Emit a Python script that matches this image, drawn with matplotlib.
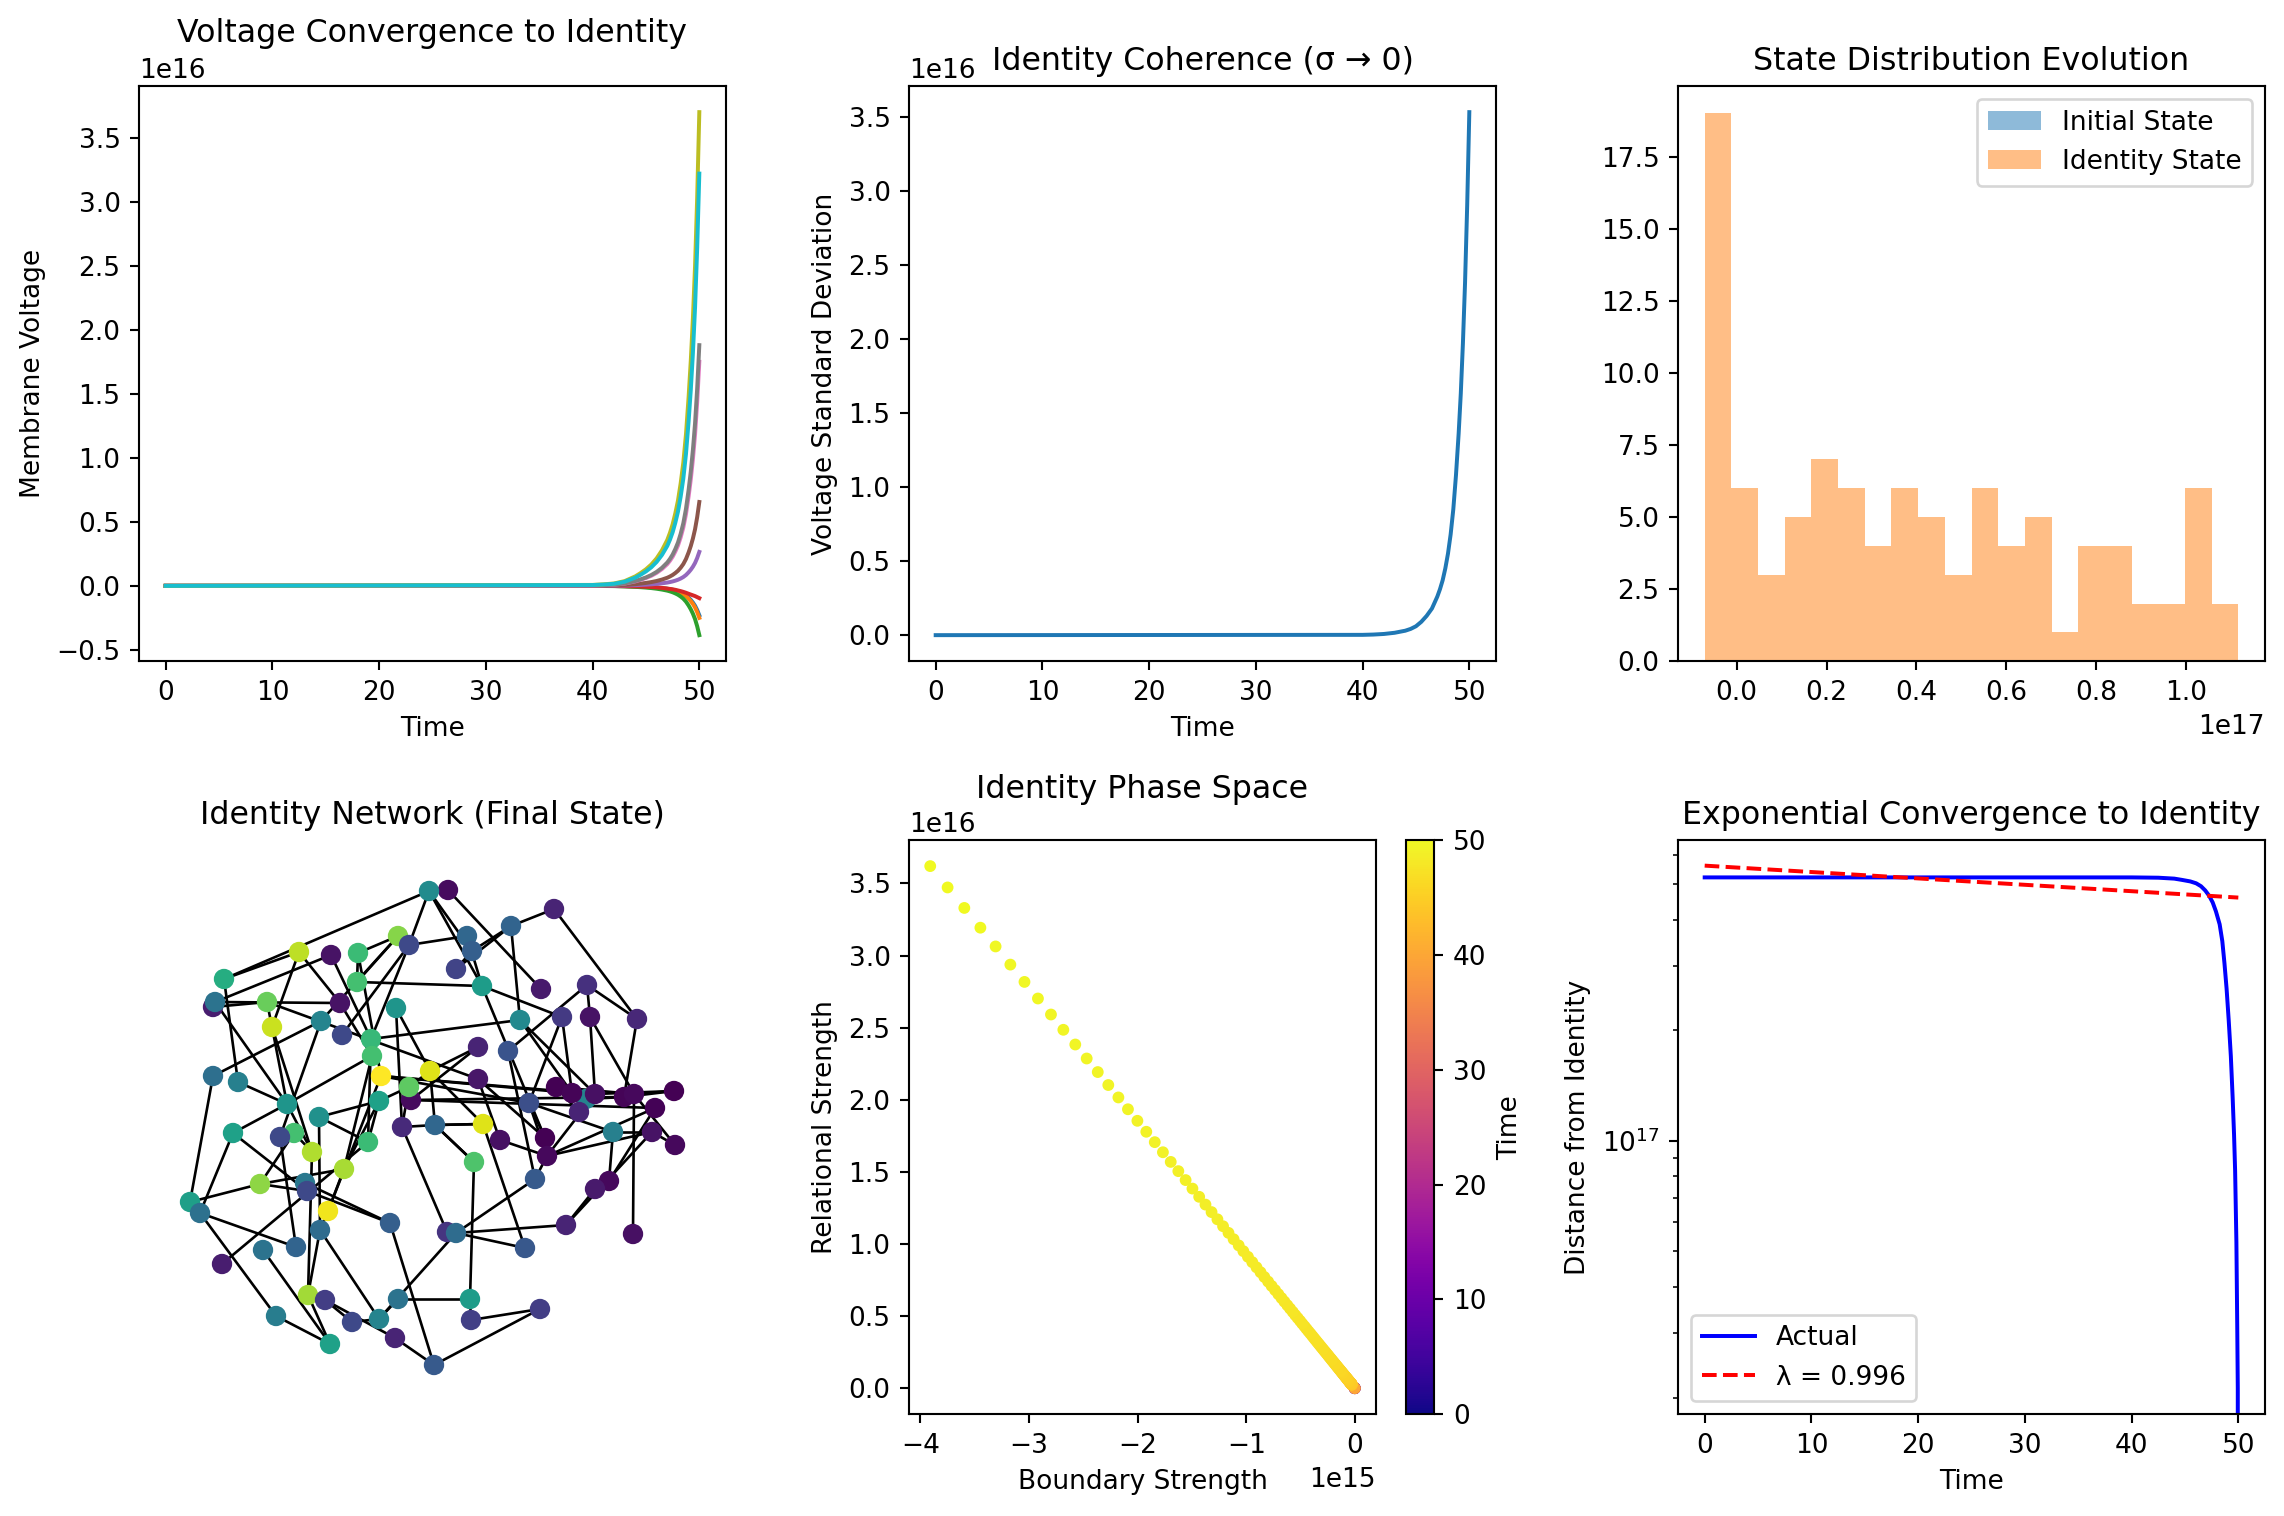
import numpy as np
import matplotlib
matplotlib.use("Agg")
import matplotlib.pyplot as plt
from matplotlib.collections import LineCollection

# ---------------- data ----------------
# Voltage traces of the first 10 nodes (units of 1e16)
time_pts = [0, 40, 41, 42, 43, 44, 44.5, 45, 45.5, 46, 46.5, 47, 47.25, 47.5, 47.75, 48, 48.25, 48.5, 48.75, 49,
            49.2, 49.4, 49.6, 49.8, 50]
volt_c0 = [0, -0.0005, -0.0007, -0.0012, -0.0023, -0.0046, -0.0062, -0.0081, -0.0104, -0.0133, -0.0173, -0.0223, -0.0258,
           -0.0299, -0.0352, -0.0414, -0.0497, -0.0598, -0.0736, -0.092, -0.1093, -0.13, -0.1553, -0.1886, -0.23]
volt_c1 = [0, -0.0005, -0.0008, -0.0013, -0.0025, -0.005, -0.0068, -0.0088, -0.0113, -0.0145, -0.0188, -0.0243, -0.028,
           -0.0325, -0.0383, -0.045, -0.054, -0.065, -0.08, -0.10, -0.1188, -0.1413, -0.1688, -0.205, -0.25]
volt_c2 = [0, -0.0008, -0.0012, -0.0019, -0.0039, -0.0077, -0.0104, -0.0135, -0.0173, -0.0223, -0.0289, -0.0373, -0.0431,
           -0.0501, -0.0589, -0.0693, -0.0832, -0.1001, -0.1232, -0.154, -0.1829, -0.2175, -0.2599, -0.3157, -0.385]
volt_c3 = [0, -0.0003, -0.0006, -0.001, -0.002, -0.004, -0.0055, -0.007, -0.009, -0.012, -0.016, -0.021, -0.024,
           -0.027, -0.031, -0.036, -0.041, -0.047, -0.054, -0.062, -0.068, -0.074, -0.080, -0.088, -0.096]
volt_c4 = [0, 0.0005, 0.0008, 0.0013, 0.0027, 0.0053, 0.0072, 0.0093, 0.0119, 0.0154, 0.0199, 0.0257, 0.0297,
           0.0345, 0.0405, 0.0477, 0.0572, 0.0689, 0.0848, 0.106, 0.1259, 0.1497, 0.1789, 0.2173, 0.265]
volt_c5 = [0, 0.0013, 0.0021, 0.0033, 0.0066, 0.0131, 0.0177, 0.0229, 0.0295, 0.038, 0.0491, 0.0635, 0.0734,
           0.0852, 0.1002, 0.1179, 0.1415, 0.1703, 0.2096, 0.262, 0.3111, 0.3701, 0.4421, 0.5371, 0.655]
volt_c6 = [0, 0.0035, 0.0056, 0.0088, 0.0175, 0.035, 0.0473, 0.0613, 0.0788, 0.1015, 0.1313, 0.1698, 0.196,
           0.2275, 0.2678, 0.315, 0.378, 0.455, 0.56, 0.70, 0.8313, 0.9888, 1.1813, 1.435, 1.75]
volt_c7 = [0, 0.0038, 0.006, 0.0094, 0.0188, 0.0376, 0.0508, 0.0658, 0.0846, 0.109, 0.141, 0.1824, 0.2106,
           0.2444, 0.2876, 0.3384, 0.4061, 0.4888, 0.6016, 0.752, 0.893, 1.0622, 1.269, 1.5416, 1.88]
volt_c8 = [0, 0.0074, 0.0118, 0.0185, 0.037, 0.074, 0.0999, 0.1295, 0.1665, 0.2146, 0.2775, 0.3589, 0.4144,
           0.481, 0.5661, 0.666, 0.7992, 0.962, 1.184, 1.48, 1.7575, 2.0905, 2.4975, 3.034, 3.70]
volt_c9 = [0, 0.0064, 0.0103, 0.0161, 0.0322, 0.0644, 0.0869, 0.1127, 0.1449, 0.1868, 0.2415, 0.3123, 0.3606,
           0.4186, 0.4927, 0.5796, 0.6955, 0.8372, 1.0304, 1.288, 1.5295, 1.8193, 2.1735, 2.6404, 3.22]
voltage_traces = [volt_c0, volt_c1, volt_c2, volt_c3, volt_c4, volt_c5, volt_c6, volt_c7, volt_c8, volt_c9]
VOLT_SCALE = 1e16

# Standard deviation of voltages (units of 1e16)
std_values = [0, 0.002, 0.004, 0.008, 0.016, 0.03, 0.042, 0.06, 0.09, 0.13, 0.18, 0.26, 0.31, 0.37, 0.45, 0.55,
              0.68, 0.85, 1.08, 1.36, 1.63, 1.97, 2.38, 2.90, 3.53]

# Histogram (final identity state, units of 1e17)
final_edge_min, final_edge_max = -0.0713, 1.117
final_counts = [19, 6, 3, 5, 7, 6, 4, 6, 5, 3, 6, 4, 5, 1, 4, 4, 2, 2, 6, 2]
initial_edge_min, initial_edge_max = -1.5, 1.5
initial_counts = [1, 1, 2, 3, 4, 5, 6, 7, 8, 9, 9, 8, 8, 7, 6, 5, 4, 3, 2, 2]
HIST_SCALE = 1e17

# Network (final state) node layout and colour value
node_x = [429, 448, 398, 409, 299, 331, 358, 456, 224, 357, 213, 215, 267, 340, 396, 272, 321, 342, 371, 372,
          430, 381, 213, 238, 409, 411, 379, 287, 319, 402, 435, 233, 294, 280, 368, 312, 344, 260, 305, 307,
          190, 200, 328, 390, 320, 447, 456, 263, 296, 222, 308, 325, 398, 276, 352, 379, 395, 330, 434, 554,
          511, 467, 472, 482, 541, 587, 520, 562, 590, 637, 478, 508, 478, 529, 556, 572, 586, 595, 579, 624,
          634, 674, 655, 483, 500, 545, 547, 613, 652, 675, 474, 535, 609, 595, 566, 633, 525, 470, 471, 540]
node_y = [891, 890, 936, 945, 952, 955, 953, 969, 979, 982, 1007, 1002, 1002, 1003, 1008, 1027, 1021, 1035, 1039, 1056,
          1071, 1076, 1076, 1082, 1087, 1100, 1101, 1104, 1117, 1127, 1125, 1133, 1133, 1137, 1142, 1152, 1169, 1184, 1183, 1191,
          1202, 1213, 1211, 1223, 1230, 1232, 1233, 1250, 1247, 1264, 1295, 1300, 1299, 1316, 1322, 1319, 1338, 1344, 1365, 909,
          926, 936, 951, 986, 989, 985, 1020, 1017, 1017, 1019, 1047, 1051, 1079, 1103, 1087, 1093, 1099, 1094, 1112, 1097,
          1094, 1091, 1108, 1124, 1140, 1138, 1156, 1132, 1132, 1145, 1162, 1179, 1181, 1189, 1225, 1234, 1248, 1299, 1320, 1309]
node_value = [0.48, 0.03, 0.82, 0.22, 0.90, 0.05, 0.68, 0.20, 0.62, 0.70, 0.08, 0.38, 0.77, 0.05, 0.52, 0.92, 0.45, 0.22, 0.67, 0.70,
              0.95, 1.00, 0.36, 0.43, 0.75, 0.03, 0.57, 0.52, 0.50, 0.12, 0.33, 0.57, 0.70, 0.22, 0.68, 0.88, 0.87, 0.83, 0.40, 0.22,
              0.56, 0.37, 0.98, 0.30, 0.35, 0.15, 0.35, 0.38, 0.32, 0.08, 0.86, 0.18, 0.38, 0.42, 0.22, 0.45, 0.10, 0.57, 0.28, 0.10,
              0.32, 0.33, 0.30, 0.55, 0.07, 0.14, 0.47, 0.17, 0.05, 0.11, 0.10, 0.26, 0.06, 0.24, 0.00, 0.01, 0.45, 0.04, 0.10, 0.01,
              0.02, 0.00, 0.005, 0.95, 0.04, 0.00, 0.02, 0.43, 0.05, 0.02, 0.72, 0.28, 0.02, 0.07, 0.10, 0.04, 0.27, 0.55, 0.19, 0.18]
edges = [(0, 1), (0, 8), (0, 3), (0, 63), (0, 62), (1, 64), (2, 6), (2, 9), (2, 3), (3, 61), (3, 18), (4, 8), (4, 15),
         (4, 13), (5, 18), (5, 11), (6, 9), (6, 21), (9, 63), (8, 23), (10, 12), (11, 13), (11, 27), (12, 15), (12, 72),
         (13, 19), (14, 20), (14, 29), (15, 35), (15, 27), (16, 22), (16, 33), (16, 2), (17, 3), (18, 66), (18, 34),
         (19, 27), (19, 36), (20, 24), (20, 30), (21, 75), (21, 77), (21, 42), (21, 73), (22, 40), (23, 27), (24, 26),
         (24, 29), (25, 79), (25, 82), (25, 70), (26, 28), (26, 36), (26, 34), (27, 31), (27, 35), (28, 44), (28, 34),
         (29, 30), (29, 45), (30, 83), (30, 90), (31, 41), (31, 39), (32, 37), (32, 35), (33, 48), (34, 49), (35, 50),
         (36, 37), (36, 42), (37, 39), (37, 40), (38, 43), (39, 43), (41, 53), (41, 48), (42, 44), (43, 58), (44, 55),
         (44, 50), (46, 94), (46, 96), (46, 91), (47, 57), (50, 51), (50, 57), (51, 56), (51, 54), (52, 55), (52, 97),
         (53, 57), (54, 55), (56, 58), (58, 99), (59, 60), (59, 69), (60, 66), (60, 62), (63, 85), (63, 67), (65, 68),
         (65, 71), (65, 69), (66, 75), (66, 77), (67, 73), (67, 75), (68, 77), (68, 80), (69, 79), (70, 20), (71, 91),
         (72, 85), (72, 84), (73, 85), (73, 87), (74, 80), (75, 77), (77, 81), (79, 81), (80, 81), (80, 89), (80, 95),
         (82, 86), (77, 86), (82, 92), (88, 87), (88, 89), (88, 94), (87, 92), (92, 93), (86, 84), (86, 73), (86, 91),
         (86, 88), (78, 74), (76, 79), (83, 96), (83, 30), (83, 20), (90, 97), (90, 30), (98, 99), (97, 98), (93, 94),
         (46, 55), (61, 63), (62, 7), (60, 7)]
nodes_behind = [1, 25, 76]

# Phase space (relational in 1e16, boundary in 1e15), listed from t=50 backwards in steps of 0.05
relational_desc = [3.620, 3.472, 3.330, 3.193, 3.063, 2.937, 2.817, 2.702, 2.591, 2.485, 2.383, 2.286, 2.192, 2.102, 2.016,
                   1.934, 1.854, 1.778, 1.706, 1.636, 1.569, 1.505, 1.443, 1.384, 1.327, 1.273, 1.221, 1.171, 1.123, 1.077,
                   1.033, 0.990, 0.950, 0.911, 0.874, 0.838, 0.804, 0.771, 0.739, 0.709, 0.680, 0.652, 0.625, 0.600, 0.575,
                   0.552, 0.529, 0.507, 0.487, 0.467, 0.448, 0.429, 0.412, 0.395, 0.379, 0.363, 0.348, 0.334, 0.320, 0.307,
                   0.295, 0.283, 0.271, 0.260, 0.249, 0.239, 0.229, 0.220, 0.211, 0.202, 0.194, 0.186, 0.178, 0.171, 0.164,
                   0.157, 0.151, 0.145, 0.139, 0.133, 0.128, 0.122, 0.117, 0.113, 0.108, 0.104, 0.099, 0.095, 0.091, 0.088,
                   0.084, 0.081, 0.077, 0.074, 0.071, 0.068, 0.065, 0.063, 0.060, 0.058, 0.055, 0.053, 0.051, 0.049, 0.047,
                   0.045, 0.043, 0.041, 0.040, 0.038, 0.036, 0.035, 0.034, 0.032, 0.031, 0.030, 0.028, 0.027, 0.026, 0.025,
                   0.024]
boundary_desc = [-3.910, -3.750, -3.596, -3.448, -3.308, -3.172, -3.042, -2.918, -2.798, -2.684, -2.574, -2.469, -2.367,
                 -2.270, -2.177, -2.089, -2.002, -1.920, -1.842, -1.767, -1.695, -1.625, -1.558, -1.495, -1.433, -1.375,
                 -1.319, -1.265, -1.213, -1.163, -1.116, -1.069, -1.026, -0.984, -0.944, -0.905, -0.868, -0.833, -0.798,
                 -0.766, -0.734, -0.704, -0.675, -0.648, -0.621, -0.596, -0.571, -0.548, -0.526, -0.504, -0.484, -0.463,
                 -0.445, -0.427, -0.409, -0.392, -0.376, -0.361, -0.346, -0.332, -0.319, -0.306, -0.293, -0.281, -0.269,
                 -0.258, -0.247, -0.238, -0.228, -0.218, -0.210, -0.201, -0.192, -0.185, -0.177, -0.170, -0.163, -0.157,
                 -0.150, -0.144, -0.138, -0.132, -0.126, -0.122, -0.117, -0.112, -0.107, -0.103, -0.098, -0.095, -0.091,
                 -0.087, -0.083, -0.080, -0.077, -0.073, -0.070, -0.068, -0.065, -0.063, -0.059, -0.057, -0.055, -0.053,
                 -0.051, -0.049, -0.046, -0.044, -0.043, -0.041, -0.039, -0.038, -0.037, -0.035, -0.033, -0.032, -0.030,
                 -0.029, -0.028, -0.027, -0.026]
phase_early_time = [0, 10, 20, 30, 40]
phase_early_rel = [0, 0, 0, 0, 0]
phase_early_bnd = [0, 0, 0, 0, 0]
PHASE_DT = 0.05
REL_SCALE, BND_SCALE = 1e16, 1e15

# Distance from identity (units of 1e17)
dist_time = [0, 10, 20, 30, 40, 42.5, 44, 44.7, 45.5, 46.05, 46.5, 46.9, 47.25, 47.6, 47.9, 48.25, 48.5, 48.7, 48.9,
             49.1, 49.3, 49.47, 49.6, 49.7, 49.82, 49.9, 49.95, 50]
dist_values = [5.22, 5.22, 5.22, 5.22, 5.22, 5.21, 5.18, 5.14, 5.09, 5.03, 4.94, 4.81, 4.66, 4.46, 4.22, 3.89, 3.50,
               3.05, 2.60, 2.13, 1.70, 1.31, 1.04, 0.83, 0.53, 0.31, 0.212, 0]
fit_amplitude = 5.62  # 1e17
fit_lambda = 0.996
DIST_SCALE = 1e17

# ---------------- layout ----------------
W, H, DPI = 2284, 1516, 190


def rect(x0, x1, y0, y1):
    return [x0 / W, 1 - y1 / H, (x1 - x0) / W, (y1 - y0) / H]


fig = plt.figure(figsize=(W / DPI, H / DPI), dpi=DPI)
top_y = (86, 661.3)
bot_y = (840, 1414.3)
ax1 = fig.add_axes(rect(139, 726, *top_y))
ax2 = fig.add_axes(rect(909, 1496, *top_y))
ax3 = fig.add_axes(rect(1678, 2265, *top_y))
ax4 = fig.add_axes(rect(139, 726, *bot_y))
ax5 = fig.add_axes(rect(909, 1376, *bot_y))
cax = fig.add_axes(rect(1406, 1434.5, *bot_y))
ax6 = fig.add_axes(rect(1678, 2265, *bot_y))

# Panel 1
for trace in voltage_traces:
    ax1.plot(time_pts, np.array(trace) * VOLT_SCALE)
ax1.set_title("Voltage Convergence to Identity")
ax1.set_xlabel("Time")
ax1.set_ylabel("Membrane Voltage")

# Panel 2
ax2.plot(time_pts, np.array(std_values) * VOLT_SCALE)
ax2.set_title("Identity Coherence (σ → 0)")
ax2.set_xlabel("Time")
ax2.set_ylabel("Voltage Standard Deviation")

# Panel 3
init_edges = np.linspace(initial_edge_min, initial_edge_max, len(initial_counts) + 1)
fin_edges = np.linspace(final_edge_min, final_edge_max, len(final_counts) + 1) * HIST_SCALE
ax3.hist((init_edges[:-1] + init_edges[1:]) / 2, bins=init_edges, weights=initial_counts,
         alpha=0.5, label="Initial State")
ax3.hist((fin_edges[:-1] + fin_edges[1:]) / 2, bins=fin_edges, weights=final_counts,
         alpha=0.5, label="Identity State")
ax3.set_title("State Distribution Evolution")
ax3.legend(loc="upper right")

# Panel 4: network
nx_arr = np.array(node_x, dtype=float)
ny_arr = np.array(node_y, dtype=float)
nv_arr = np.array(node_value, dtype=float)
segs = [[(nx_arr[a], ny_arr[a]), (nx_arr[b], ny_arr[b])] for a, b in edges]
ax4.add_collection(LineCollection(segs, colors="k", linewidths=1.0, zorder=1))
order = nodes_behind + [i for i in range(len(node_x)) if i not in nodes_behind]
ax4.scatter(nx_arr[order], ny_arr[order], c=nv_arr[order], cmap="viridis", vmin=0, vmax=1,
            s=45, zorder=2)
ax4.set_xlim(139, 726)
ax4.set_ylim(1414.3, 840)
ax4.set_axis_off()
ax4.set_title("Identity Network (Final State)")

# Panel 5: phase space
n_dense = len(relational_desc)
phase_time = np.concatenate([phase_early_time, 50 - PHASE_DT * np.arange(n_dense)[::-1]])
rel = np.concatenate([phase_early_rel, np.array(relational_desc)[::-1]]) * REL_SCALE
bnd = np.concatenate([phase_early_bnd, np.array(boundary_desc)[::-1]]) * BND_SCALE
sc = ax5.scatter(bnd, rel, c=phase_time, cmap="plasma", s=12)
cb = fig.colorbar(sc, cax=cax)
cb.set_label("Time")
ax5.set_title("Identity Phase Space", pad=16)
ax5.set_xlabel("Boundary Strength")
ax5.set_ylabel("Relational Strength")

# Panel 6
ax6.semilogy(dist_time, np.array(dist_values) * DIST_SCALE, "b-", label="Actual")
fit_t = np.array(dist_time, dtype=float)
ax6.semilogy(fit_t, fit_amplitude * DIST_SCALE * fit_lambda ** fit_t, "r--", label=f"λ = {fit_lambda}")
ax6.set_ylim(1.8e16, 6.6e17)
ax6.set_title("Exponential Convergence to Identity")
ax6.set_xlabel("Time")
ax6.set_ylabel("Distance from Identity")
ax6.legend(loc="lower left")

fig.savefig("out.png", dpi=DPI)
